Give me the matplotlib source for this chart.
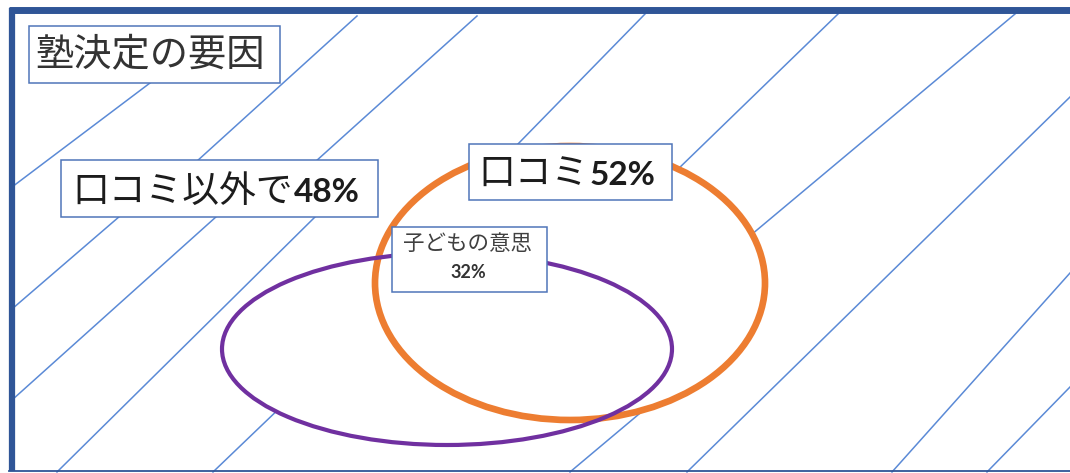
import matplotlib.pyplot as plt
from matplotlib.patches import Ellipse, Rectangle

# 塾決定の要因（アンケート結果）
title = '塾決定の要因'
groups = ['口コミ以外で', '口コミ', '子どもの意思']
shares = [48, 52, 32]

# レイアウト（ピクセル座標、上が0）
W, H = 1070, 473
ellipses = {  # 中心x, 中心y, 幅, 高さ
    '口コミ': (570, 283, 390, 274),
    '子どもの意思': (447, 349, 450, 192),
}
boxes = {  # 左, 上, 右, 下
    'title': (29, 26, 280, 83),
    '口コミ以外で': (61, 160, 378, 217),
    '口コミ': (469, 144, 672, 200),
    '子どもの意思': (392, 227, 547, 292),
}
# 背景の斜線 (x0, y0, x1, y1)
hatch = [
    (150, 83, 12, 187),
    (357, 16, 196, 162), (120, 216, 12, 309),
    (477, 16, 315, 162), (217, 216, 12, 400),
    (317, 215, 57, 472),
    (285, 403, 213, 472),
    (645, 14, 516, 146),
    (838, 14, 675, 172),
    (1015, 14, 745, 240),
    (1070, 97, 687, 472),
    (1070, 273, 892, 472),
    (1070, 387, 987, 472),
    (645, 409, 570, 472),
]

JP = ['Noto Sans CJK JP', 'DejaVu Sans']
NUM = ['Lato', 'DejaVu Sans']
TXT = '#1c1c1c'
FRAME = '#2f5597'
HATCH = '#5b8ad6'
BOXEDGE = '#4f75b9'
ORANGE = '#ed7d31'
PURPLE = '#7030a0'

fig = plt.figure(figsize=(W / 100, H / 100), dpi=100)
ax = fig.add_axes([0, 0, 1, 1])
ax.set_xlim(0, W)
ax.set_ylim(H, 0)
ax.axis('off')

for x0, y0, x1, y1 in hatch:
    ax.plot([x0, x1], [y0, y1], color=HATCH, lw=1.1, zorder=1)

# 枠線
ax.plot([12, 12], [8, 471], color=FRAME, lw=4.5, solid_capstyle='butt', zorder=6)
ax.plot([9, W], [10.5, 10.5], color=FRAME, lw=5, solid_capstyle='butt', zorder=6)
ax.plot([9, W], [470.5, 470.5], color=FRAME, lw=1.3, zorder=6)

# 円（中は白抜き）
for name, color, lw, z in [('口コミ', ORANGE, 4.8, 3), ('子どもの意思', PURPLE, 3.0, 3.5)]:
    cx, cy, w, h = ellipses[name]
    ax.add_patch(Ellipse((cx, cy), w, h, facecolor='white', edgecolor='none', zorder=2))
    ax.add_patch(Ellipse((cx, cy), w, h, facecolor='none', edgecolor=color, lw=lw, zorder=z))

for l, t, r, b in boxes.values():
    ax.add_patch(Rectangle((l, t), r - l, b - t, facecolor='white', edgecolor=BOXEDGE,
                           lw=1.1, zorder=4))

renderer = fig.canvas.get_renderer()


def mixed_label(x, y, jp, num, size, numsize):
    t = ax.text(x, y, jp, family=JP, fontsize=size, color=TXT, va='baseline', zorder=5)
    bb = t.get_window_extent(renderer)
    xr = ax.transData.inverted().transform((bb.x1, bb.y0))[0]
    ax.text(xr + 1, y, num, family=NUM, weight='bold', fontsize=numsize, color=TXT,
            va='baseline', zorder=5)


ax.text(35, 65, title, family=JP, fontsize=27.5, color='#333333', va='baseline', zorder=5)
mixed_label(72, 202, groups[0], f'{shares[0]}%', 26.5, 24)
mixed_label(478, 185, groups[1], f'{shares[1]}%', 26.5, 24)

ax.text(468, 250, groups[2], family=JP, fontsize=15.5, color='#404040', ha='center',
        va='baseline', zorder=5)
ax.text(468, 278, f'{shares[2]}%', family=NUM, weight='bold', fontsize=13, color='#333333',
        ha='center', va='baseline', zorder=5)

fig.savefig('out.png', dpi=100)
